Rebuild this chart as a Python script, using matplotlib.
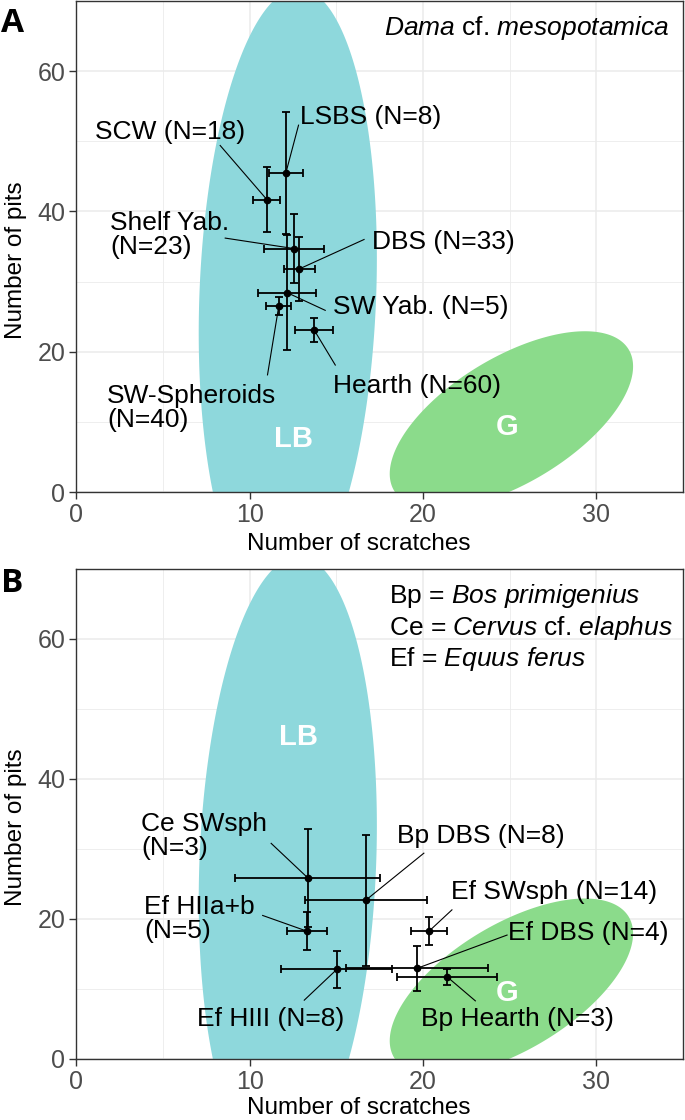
import matplotlib.pyplot as plt
import numpy as np

plt.rcParams['font.family'] = ['Liberation Sans', 'DejaVu Sans']
plt.rcParams['mathtext.fontset'] = 'custom'
plt.rcParams['mathtext.rm'] = 'Liberation Sans'
plt.rcParams['mathtext.it'] = 'Liberation Sans:italic'

# panel A : Dama cf. mesopotamica
a_names = ["SCW (N=18)", "LSBS (N=8)", "Shelf Yab.\n(N=23)", "DBS (N=33)",
           "SW Yab. (N=5)", "SW-Spheroids\n(N=40)", "Hearth (N=60)"]
a_scratches = [10.99, 12.09, 12.57, 12.86, 12.18, 11.68, 13.72]
a_scratches_err = [0.77, 1.0, 1.72, 0.9, 1.67, 0.71, 1.1]
a_pits = [41.7, 45.5, 34.7, 31.8, 28.4, 26.5, 23.1]
a_pits_err = [4.6, 8.7, 4.9, 4.6, 8.2, 1.25, 1.7]
# label position (left, middle) and start of the leader line
a_lab_x = [1.08, 12.92, 1.95, 17.07, 14.82, 1.77, 14.82]
a_lab_y = [51.3, 53.4, 36.7, 35.6, 26.4, 11.97, 15.1]
a_seg_x = [8.3, 12.82, 8.59, 16.6, 14.36, 11.03, 14.94]
a_seg_y = [49.4, 52.3, 36.2, 36.0, 25.9, 16.7, 18.1]

# panel B : other taxa
b_names = ["Ce SWsph\n(N=3)", "Bp DBS (N=8)", "Ef SWsph (N=14)", "Ef HIIa+b\n(N=5)",
           "Ef DBS (N=4)", "Ef HIII (N=8)", "Bp Hearth (N=3)"]
b_scratches = [13.34, 16.71, 20.35, 13.3, 19.65, 15.03, 21.39]
b_scratches_err = [4.2, 3.5, 1.04, 1.14, 4.1, 3.2, 2.9]
b_pits = [25.9, 22.7, 18.26, 18.26, 12.94, 12.8, 11.74]
b_pits_err = [7.0, 9.35, 2.0, 2.75, 3.23, 2.65, 1.15]
b_lab_x = [3.74, 18.52, 21.61, 3.91, 24.89, 6.97, 19.9]
b_lab_y = [31.9, 31.8, 23.8, 20.0, 18.0, 5.7, 5.7]
b_seg_x = [11.24, 20.05, 21.67, 10.75, 24.85, 13.15, 23.02]
b_seg_y = [30.8, 29.4, 21.3, 20.5, 17.7, 8.4, 8.3]

# reference ellipses (centre x, centre y, semi major, semi minor, angle deg)
lb_ell = (12.2, 28.0, 43.8, 5.1, 89.17)
g_ell = (25.1, 10.25, 13.5, 5.25, 68.0)
lb_col = "#8ED8DC"
g_col = "#8BDB8B"

t = np.linspace(0, 2 * np.pi, 300)


def ellipse(ax, e, col):
    cx, cy, a, b, ang = e
    th = np.deg2rad(ang)
    ex = cx + a * np.cos(t) * np.cos(th) - b * np.sin(t) * np.sin(th)
    ey = cy + a * np.cos(t) * np.sin(th) + b * np.sin(t) * np.cos(th)
    ax.fill(ex, ey, color=col, lw=0, zorder=1)


def panel(ax, names, sx, sxe, py, pye, lx, ly, gx, gy, lb_pos, g_pos, xlab_y):
    ellipse(ax, lb_ell, lb_col)
    ellipse(ax, g_ell, g_col)
    ax.text(lb_pos[0], lb_pos[1], "LB", color="white", fontsize=21, fontweight="bold",
            ha="center", va="center", zorder=2)
    ax.text(g_pos[0], g_pos[1], "G", color="white", fontsize=21, fontweight="bold",
            ha="center", va="center", zorder=2)
    for i in range(len(names)):
        ax.plot([gx[i], sx[i]], [gy[i], py[i]], color="black", lw=0.8, zorder=3)
        ax.text(lx[i], ly[i], names[i], fontsize=19, ha="left", va="center",
                linespacing=1.0, zorder=5)
    ax.errorbar(sx, py, xerr=sxe, yerr=pye, fmt="o", color="black", ms=4.5,
                elinewidth=1.3, capsize=3, capthick=1.3, zorder=4)
    ax.set_xlim(0, 35)
    ax.set_ylim(0, 70)
    ax.set_xticks([0, 10, 20, 30])
    ax.set_yticks([0, 20, 40, 60])
    ax.set_xticks([5, 15, 25, 35], minor=True)
    ax.set_yticks([10, 30, 50, 70], minor=True)
    ax.grid(which="major", color="#EBEBEB", lw=1.1, zorder=0)
    ax.grid(which="minor", color="#EBEBEB", lw=0.6, zorder=0)
    ax.set_axisbelow(True)
    ax.tick_params(which="major", length=5, width=1, color="#333333",
                   labelsize=18, labelcolor="#4D4D4D", pad=3)
    ax.tick_params(which="minor", length=0)
    for s in ax.spines.values():
        s.set_color("#333333")
        s.set_linewidth(1)
    ax.set_xlabel("Number of scratches", fontsize=17.5)
    ax.xaxis.set_label_coords(0.465, xlab_y)
    ax.set_ylabel("Number of pits", fontsize=17.5)
    ax.yaxis.set_label_coords(-0.081, 0.472)


fig = plt.figure(figsize=(6.85, 11.2), dpi=100)
ax1 = fig.add_axes([0.1114, 0.5607, 0.8857, 0.4384])
panel(ax1, a_names, a_scratches, a_scratches_err, a_pits, a_pits_err,
      a_lab_x, a_lab_y, a_seg_x, a_seg_y, (12.53, 7.6), (24.85, 9.2), -0.083)
ax1.text(34.22, 66.2, r"$\mathit{Dama}$ cf. $\mathit{mesopotamica}$", fontsize=19,
         ha="right", va="center")

ax2 = fig.add_axes([0.1114, 0.0545, 0.8857, 0.4375])
panel(ax2, b_names, b_scratches, b_scratches_err, b_pits, b_pits_err,
      b_lab_x, b_lab_y, b_seg_x, b_seg_y, (12.82, 46.0), (24.85, 9.4), -0.077)
legend_lines = [r"Bp = $\mathit{Bos\ primigenius}$",
                r"Ce = $\mathit{Cervus}$ cf. $\mathit{elaphus}$",
                r"Ef = $\mathit{Equus\ ferus}$"]
legend_y = [66.2, 61.6, 57.2]
for s, yy in zip(legend_lines, legend_y):
    ax2.text(18.06, yy, s, fontsize=19, ha="left", va="center")

fig.text(0.002, 0.979, "A", fontsize=24, fontweight="bold", family="Open Sans",
         ha="left", va="center")
fig.text(0.002, 0.479, "B", fontsize=24, fontweight="bold", family="Open Sans",
         ha="left", va="center")

fig.savefig("out.png", dpi=100)
